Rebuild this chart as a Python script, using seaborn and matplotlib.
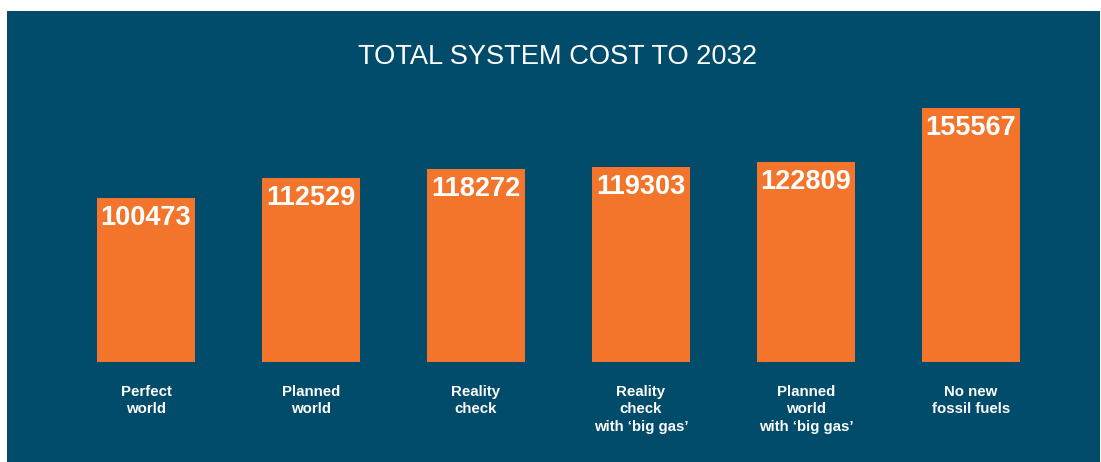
import matplotlib
matplotlib.use("Agg")
import matplotlib.pyplot as plt
from matplotlib.patches import Rectangle
import seaborn as sns
import pandas as pd

scenarios = [
    "Perfect\nworld",
    "Planned\nworld",
    "Reality\ncheck",
    "Reality\ncheck\nwith \u2018big gas\u2019",
    "Planned\nworld\nwith \u2018big gas\u2019",
    "No new\nfossil fuels",
]
total_cost = [100473, 112529, 118272, 119303, 122809, 155567]
title = "TOTAL SYSTEM COST TO 2032"

PANEL = "#014b6b"
ORANGE = "#f2752b"

sns.set_theme(style="white")
plt.rcParams["font.family"] = ["Liberation Sans", "DejaVu Sans"]

W, H = 1101, 462
fig = plt.figure(figsize=(W / 100, H / 100), dpi=100, facecolor="white")

# dark backdrop panel, kept behind the axes
fig.patches.append(Rectangle((7 / W, 0), (1100 - 7) / W, (H - 11) / H,
                             transform=fig.transFigure, facecolor=PANEL,
                             edgecolor="none", zorder=-10))

ax = fig.add_axes([63.5 / W, 1 - 362 / H, 990 / W, (362 - 98) / H])
ax.set_facecolor("none")
ax.set_zorder(5)

df = pd.DataFrame({"scenario": scenarios, "cost": total_cost})
sns.barplot(data=df, x="scenario", y="cost", color=ORANGE, saturation=1,
            width=0.594, linewidth=0, edgecolor="none", ax=ax)

ax.set_xlim(-0.5, len(scenarios) - 0.5)
ax.set_ylim(0, 161765)
ax.set_xlabel("")
ax.set_ylabel("")
ax.set_yticks([])
for s in ax.spines.values():
    s.set_visible(False)

ax.tick_params(axis="x", length=0, pad=16.5, colors="white")
for lbl in ax.get_xticklabels():
    lbl.set_fontweight("bold")
    lbl.set_fontsize(10.8)
    lbl.set_color("white")
    lbl.set_linespacing(1.3)
    lbl.set_verticalalignment("top")

for i, v in enumerate(total_cost):
    ax.annotate(f"{v}", xy=(i, v), xytext=(0, -5), textcoords="offset points",
                ha="center", va="top", color="white", fontsize=19.5,
                fontweight="bold")

fig.text(557 / W, 1 - 57 / H, title, ha="center", va="center",
         color="white", fontsize=19.6, zorder=6)

fig.savefig("out.png", dpi=100, facecolor="white")
